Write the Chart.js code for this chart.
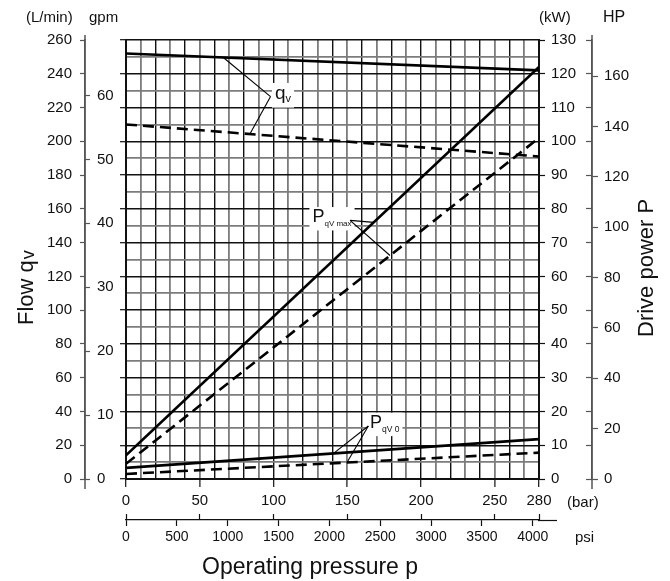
<!DOCTYPE html>
<html>
<head>
<meta charset="utf-8">
<title>Flow and drive power vs operating pressure</title>
<script src="https://cdn.jsdelivr.net/npm/chart.js@4.4.1/dist/chart.umd.min.js"></script>
<style>
  html, body { margin: 0; padding: 0; background: #fff; }
  #wrap { width: 670px; height: 581px; }
</style>
</head>
<body>
<div id="wrap"><canvas id="chart" width="670" height="581"></canvas></div>
<script>
// values: pressure in bar, flow in L/min, power in kW
const pressureBar = [0, 280];
const flowMax = [252, 242];
const flowReduced = [210, 191];
const powerMax = [7, 122];
const powerMaxReduced = [4.5, 101];
const powerZero = [3.3, 11.8];
const powerZeroReduced = [1.5, 7.8];

// tick labels of every axis
const barTicks = [0, 50, 100, 150, 200, 250, 280];
const psiTicks = [0, 500, 1000, 1500, 2000, 2500, 3000, 3500, 4000];
const lminTicks = [0, 20, 40, 60, 80, 100, 120, 140, 160, 180, 200, 220, 240, 260];
const gpmTicks = [0, 10, 20, 30, 40, 50, 60];
const kwTicks = [0, 10, 20, 30, 40, 50, 60, 70, 80, 90, 100, 110, 120, 130];
const hpTicks = [0, 20, 40, 60, 80, 100, 120, 140, 160];

const BAR_TO_PSI = 14.5038;
const GPM_TO_LMIN = 3.78541;
const KW_TO_HP = 1.34102;

const FONT = '"Liberation Sans", Arial, Helvetica, sans-serif';
const BLACK = '#111';
const GRAY = '#7c7c7c';
const AXIS = '#555';

// grid every 10 bar / 10 L/min
const gridBar = [];
for (let b = 0; b <= 280; b += 10) gridBar.push(b);
const gridLmin = [];
for (let q = 0; q <= 260; q += 10) gridLmin.push(q);

const fixTicks = values => scale => { scale.ticks = values.map(v => ({ value: v })); };
const fixWidth = w => scale => { scale.width = w; };
const fixHeight = h => scale => { scale.height = h; };
const tickVal = c => (c.tick ? c.tick.value : 0);

const toPoints = series => pressureBar.map((p, i) => ({ x: p, y: series[i] }));
const valueAt = (series, bar) =>
  series[0] + (series[1] - series[0]) * (bar - pressureBar[0]) / (pressureBar[1] - pressureBar[0]);

// leader-line labels, placed in data units
const notes = [
  { scale: 'y', text: 'q', sub: 'v', at: [101, 225], hub: [98, 226.5],
    targets: [[66, flowMax], [84, flowReduced]], size: 19, subSize: 11, subDy: 3 },
  { scale: 'kw', text: 'P', sub: 'qV max', at: [126.4, 76], hub: [151.9, 76.6],
    targets: [[168, powerMax], [179, powerMaxReduced]], size: 18, subSize: 8, subDy: 4 },
  { scale: 'kw', text: 'P', sub: 'qV 0', at: [165.4, 15.1], hub: [164.3, 15.7],
    targets: [[140.7, powerZero], [149.8, powerZeroReduced]], size: 18, subSize: 8.5, subDy: 4 }
];

const line = (series, axis, dashed) => ({
  data: toPoints(series),
  yAxisID: axis,
  borderColor: '#000',
  borderWidth: 2.6,
  borderDash: dashed ? [11, 6] : [],
  pointRadius: 0,
  tension: 0,
  fill: false
});

const sheetText = {
  id: 'sheetText',
  afterDatasetsDraw(chart) {
    const ctx = chart.ctx;
    const xs = chart.scales.x;
    ctx.save();
    notes.forEach(n => {
      const ys = chart.scales[n.scale];
      const tx = xs.getPixelForValue(n.at[0]);
      const ty = ys.getPixelForValue(n.at[1]);
      ctx.font = `${n.size}px ${FONT}`;
      const w1 = ctx.measureText(n.text).width;
      ctx.font = `${n.subSize}px ${FONT}`;
      const w2 = ctx.measureText(n.sub).width;
      ctx.fillStyle = '#fff';
      ctx.fillRect(tx - 3, ty - n.size * 0.85, w1 + w2 + 6, n.size * 1.3);
      const hx = xs.getPixelForValue(n.hub[0]);
      const hy = ys.getPixelForValue(n.hub[1]);
      ctx.strokeStyle = '#000';
      ctx.lineWidth = 1.1;
      n.targets.forEach(([bar, series]) => {
        ctx.beginPath();
        ctx.moveTo(hx, hy);
        ctx.lineTo(xs.getPixelForValue(bar), ys.getPixelForValue(valueAt(series, bar)));
        ctx.stroke();
      });
      ctx.fillStyle = BLACK;
      ctx.textAlign = 'left';
      ctx.textBaseline = 'alphabetic';
      ctx.font = `${n.size}px ${FONT}`;
      ctx.fillText(n.text, tx, ty);
      ctx.font = `${n.subSize}px ${FONT}`;
      ctx.fillText(n.sub, tx + w1, ty + n.subDy);
    });
    ctx.restore();
  },
  afterDraw(chart) {
    const ctx = chart.ctx;
    const area = chart.chartArea;
    const { lmin, hp, psi } = chart.scales;
    ctx.save();
    // the outer axis lines run a little past the grid on the sheet
    ctx.strokeStyle = AXIS;
    ctx.lineWidth = 1.5;
    ctx.beginPath();
    ctx.moveTo(lmin.right, area.top - 5);
    ctx.lineTo(lmin.right, area.bottom + 10);
    ctx.moveTo(hp.left, area.top - 5);
    ctx.lineTo(hp.left, area.bottom + 10);
    ctx.stroke();
    ctx.strokeStyle = BLACK;
    ctx.lineWidth = 1.2;
    ctx.beginPath();
    ctx.moveTo(psi.right - 1, psi.top + 0.5);
    ctx.lineTo(psi.right + 18, psi.top + 0.5);
    ctx.stroke();

    ctx.fillStyle = BLACK;
    ctx.textAlign = 'left';
    ctx.textBaseline = 'alphabetic';
    ctx.font = `15px ${FONT}`;
    ctx.fillText('(L/min)', 26, 22);
    ctx.fillText('gpm', 89, 22);
    ctx.fillText('(kW)', 539, 22);
    ctx.font = `16px ${FONT}`;
    ctx.fillText('HP', 603, 22);
    ctx.font = `15px ${FONT}`;
    ctx.fillText('(bar)', 567, 507);
    ctx.fillText('psi', 575, 542);
    ctx.font = `23px ${FONT}`;
    ctx.fillText('Operating pressure p', 202, 574);

    ctx.translate(33, 325);
    ctx.rotate(-Math.PI / 2);
    ctx.font = `22px ${FONT}`;
    ctx.fillText('Flow q', 0, 0);
    const w = ctx.measureText('Flow q').width;
    ctx.font = `18px ${FONT}`;
    ctx.fillText('v', w + 1, 1);
    ctx.restore();

    ctx.save();
    ctx.fillStyle = BLACK;
    ctx.translate(653, 337);
    ctx.rotate(-Math.PI / 2);
    ctx.font = `22px ${FONT}`;
    ctx.textBaseline = 'alphabetic';
    ctx.fillText('Drive power P', 0, 0);
    ctx.restore();
  }
};

Chart.defaults.font.family = FONT;
Chart.defaults.color = BLACK;

new Chart(document.getElementById('chart'), {
  type: 'line',
  data: {
    datasets: [
      line(flowMax, 'y', false),
      line(flowReduced, 'y', true),
      line(powerMax, 'kw', false),
      line(powerMaxReduced, 'kw', true),
      line(powerZero, 'kw', false),
      line(powerZeroReduced, 'kw', true)
    ]
  },
  options: {
    responsive: false,
    animation: false,
    devicePixelRatio: 1,
    layout: { padding: { left: 0, right: 0, top: 40, bottom: 33 } },
    plugins: { legend: { display: false }, tooltip: { enabled: false } },
    scales: {
      x: {
        type: 'linear', position: 'bottom', weight: 0, min: 0, max: 280,
        afterBuildTicks: fixTicks(gridBar),
        afterFit: fixHeight(41),
        grid: {
          color: c => (tickVal(c) % 20 === 0 ? BLACK : GRAY),
          lineWidth: c => (tickVal(c) % 20 === 0 ? 1.4 : 1.8),
          tickLength: 8,
          tickWidth: 1.2,
          tickColor: c => (barTicks.includes(tickVal(c)) ? BLACK : 'transparent')
        },
        border: { color: BLACK, width: 2 },
        ticks: {
          autoSkip: false, maxRotation: 0, minRotation: 0, padding: 5,
          font: { size: 15 },
          callback: v => (barTicks.includes(v) ? String(v) : '')
        }
      },
      xBarRef: {
        type: 'linear', position: 'bottom', weight: 1, min: 0, max: 280,
        afterBuildTicks: fixTicks(barTicks),
        afterFit: fixHeight(0),
        grid: { drawOnChartArea: false, tickLength: -6, color: BLACK, tickWidth: 1.2 },
        border: { display: false },
        ticks: { display: false }
      },
      psi: {
        type: 'linear', position: 'bottom', weight: 2, min: 0, max: 280 * BAR_TO_PSI,
        afterBuildTicks: fixTicks(psiTicks),
        afterFit: fixHeight(28),
        grid: { drawOnChartArea: false, tickLength: 6, color: BLACK, tickWidth: 1.2 },
        border: { color: BLACK, width: 1.2 },
        ticks: {
          autoSkip: false, maxRotation: 0, minRotation: 0, padding: 3,
          font: { size: 14 },
          callback: v => String(v)
        }
      },
      y: {
        type: 'linear', position: 'left', weight: 0, min: 0, max: 260,
        afterBuildTicks: fixTicks(gridLmin),
        afterFit: fixWidth(41),
        grid: {
          color: c => (tickVal(c) % 20 === 0 ? BLACK : GRAY),
          lineWidth: c => (tickVal(c) % 20 === 0 ? 1.4 : 1.8),
          tickLength: 6,
          tickWidth: 1.2,
          tickColor: c => (tickVal(c) % 20 === 0 ? BLACK : 'transparent')
        },
        border: { color: BLACK, width: 2 },
        ticks: { display: false }
      },
      gpm: {
        type: 'linear', position: 'left', weight: 1, min: 0, max: 260 / GPM_TO_LMIN,
        afterBuildTicks: fixTicks(gpmTicks),
        afterFit: fixWidth(0),
        grid: { drawOnChartArea: false, tickLength: -5, color: AXIS, tickWidth: 1.2 },
        border: { display: false },
        ticks: { mirror: true, padding: 12, font: { size: 15 }, callback: v => String(v) }
      },
      lmin: {
        type: 'linear', position: 'left', weight: 2, min: 0, max: 260,
        afterBuildTicks: fixTicks(lminTicks),
        afterFit: fixWidth(85),
        grid: { drawOnChartArea: false, tickLength: 5, color: AXIS, tickWidth: 1.2 },
        border: { color: AXIS, width: 1.5 },
        ticks: { padding: 8, font: { size: 15 }, callback: v => String(v) }
      },
      kw: {
        type: 'linear', position: 'right', weight: 0, min: 0, max: 130,
        afterBuildTicks: fixTicks(kwTicks),
        afterFit: fixWidth(53),
        grid: { drawOnChartArea: false, tickLength: 6, color: BLACK, tickWidth: 1.2 },
        border: { color: BLACK, width: 2 },
        ticks: { padding: 6, font: { size: 15 }, callback: v => String(v) }
      },
      kwRef: {
        type: 'linear', position: 'right', weight: 1, min: 0, max: 130,
        afterBuildTicks: fixTicks(kwTicks),
        afterFit: fixWidth(0),
        grid: { drawOnChartArea: false, tickLength: -6, color: AXIS, tickWidth: 1.2 },
        border: { display: false },
        ticks: { display: false }
      },
      hp: {
        type: 'linear', position: 'right', weight: 2, min: 0, max: 130 * KW_TO_HP,
        afterBuildTicks: fixTicks(hpTicks),
        afterFit: fixWidth(78),
        grid: { drawOnChartArea: false, tickLength: 6, color: AXIS, tickWidth: 1.2 },
        border: { color: AXIS, width: 1.5 },
        ticks: { padding: 6, font: { size: 15 }, callback: v => String(v) }
      }
    }
  },
  plugins: [sheetText]
});
</script>
</body>
</html>
